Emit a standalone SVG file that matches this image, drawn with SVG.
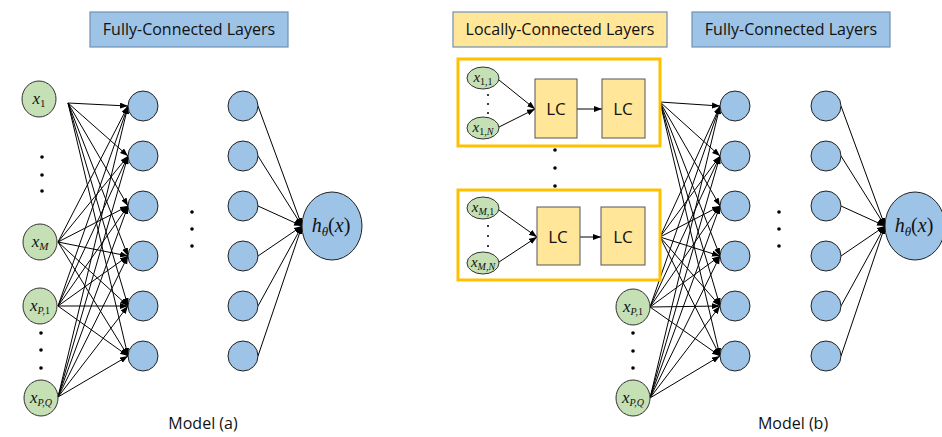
<svg xmlns="http://www.w3.org/2000/svg" width="942" height="437" viewBox="0 0 942 437">
<defs>
<marker id="ah" markerUnits="userSpaceOnUse" markerWidth="9" markerHeight="7" refX="8" refY="3" orient="auto">
<path d="M0,0 L8,3 L0,6 z" fill="#000"/>
</marker>
<style>
.title{font-family:"Open Sans","Liberation Sans",sans-serif;font-size:16px;fill:#111;text-anchor:middle}
.cap{font-family:"Open Sans","Liberation Sans",sans-serif;font-size:16px;fill:#111;text-anchor:middle}
.fcbox{fill:#9DC3E6;stroke:#6F8FB6;stroke-width:1.2}
.lcbox{fill:#FFE699;stroke:#6F8FB6;stroke-width:1.2}
.grp{fill:none;stroke:#FFC000;stroke-width:3}
.in{fill:#C5E0B4;stroke:#333;stroke-width:1}
.hid{fill:#9DC3E6;stroke:#222;stroke-width:1}
.lc{fill:#FFE699;stroke:#555;stroke-width:1}
.lct{font-family:"Open Sans","Liberation Sans",sans-serif;font-size:17px;fill:#111;text-anchor:middle}
.m{font-family:"Liberation Serif","DejaVu Serif",serif;font-style:italic;fill:#111;text-anchor:middle}
.e line{stroke:#000;stroke-width:1;marker-end:url(#ah)}
.dot{fill:#000}
</style>
</defs>
<rect width="942" height="437" fill="#fff"/>

<!-- titles -->
<g id="title-a"><rect class="fcbox" x="90" y="12" width="198" height="35"/><text class="title" x="189" y="35">Fully-Connected Layers</text></g>
<g id="title-lc"><rect class="lcbox" x="453" y="12" width="214" height="35"/><text class="title" x="560" y="35">Locally-Connected Layers</text></g>
<g id="title-b"><rect class="fcbox" x="692" y="12" width="198" height="35"/><text class="title" x="791" y="35">Fully-Connected Layers</text></g>

<!-- connectors -->
<g id="connectors">
<g class="e">
<line x1="68" y1="103" x2="128" y2="106"/><line x1="68" y1="103" x2="128" y2="156"/><line x1="68" y1="103" x2="128" y2="206"/><line x1="68" y1="103" x2="128" y2="256"/><line x1="68" y1="103" x2="128" y2="306"/><line x1="68" y1="103" x2="128" y2="356"/>
<line x1="58" y1="242" x2="128" y2="106"/><line x1="58" y1="242" x2="128" y2="156"/><line x1="58" y1="242" x2="128" y2="206"/><line x1="58" y1="242" x2="128" y2="256"/><line x1="58" y1="242" x2="128" y2="306"/><line x1="58" y1="242" x2="128" y2="356"/>
<line x1="58" y1="306" x2="128" y2="106"/><line x1="58" y1="306" x2="128" y2="156"/><line x1="58" y1="306" x2="128" y2="206"/><line x1="58" y1="306" x2="128" y2="256"/><line x1="58" y1="306" x2="128" y2="306"/><line x1="58" y1="306" x2="128" y2="356"/>
<line x1="58" y1="397" x2="128" y2="106"/><line x1="58" y1="397" x2="128" y2="156"/><line x1="58" y1="397" x2="128" y2="206"/><line x1="58" y1="397" x2="128" y2="256"/><line x1="58" y1="397" x2="128" y2="306"/><line x1="58" y1="397" x2="128" y2="356"/>
<line x1="258" y1="106" x2="302" y2="226"/><line x1="258" y1="156" x2="302" y2="226"/><line x1="258" y1="206" x2="302" y2="226"/><line x1="258" y1="256" x2="302" y2="226"/><line x1="258" y1="306" x2="302" y2="226"/><line x1="258" y1="356" x2="302" y2="226"/>
<line x1="499" y1="80" x2="535" y2="109"/><line x1="499" y1="127" x2="535" y2="109"/><line x1="577" y1="109" x2="602" y2="109"/>
<line x1="499" y1="210" x2="537" y2="237"/><line x1="499" y1="262" x2="537" y2="237"/><line x1="580" y1="237" x2="601" y2="237"/>
<line x1="660" y1="102" x2="720" y2="106"/><line x1="660" y1="102" x2="720" y2="156"/><line x1="660" y1="102" x2="720" y2="206"/><line x1="660" y1="102" x2="720" y2="256"/><line x1="660" y1="102" x2="720" y2="306"/><line x1="660" y1="102" x2="720" y2="356"/>
<line x1="660" y1="237" x2="720" y2="106"/><line x1="660" y1="237" x2="720" y2="156"/><line x1="660" y1="237" x2="720" y2="206"/><line x1="660" y1="237" x2="720" y2="256"/><line x1="660" y1="237" x2="720" y2="306"/><line x1="660" y1="237" x2="720" y2="356"/>
<line x1="650" y1="307" x2="720" y2="106"/><line x1="650" y1="307" x2="720" y2="156"/><line x1="650" y1="307" x2="720" y2="206"/><line x1="650" y1="307" x2="720" y2="256"/><line x1="650" y1="307" x2="720" y2="306"/><line x1="650" y1="307" x2="720" y2="356"/>
<line x1="650" y1="398" x2="720" y2="106"/><line x1="650" y1="398" x2="720" y2="156"/><line x1="650" y1="398" x2="720" y2="206"/><line x1="650" y1="398" x2="720" y2="256"/><line x1="650" y1="398" x2="720" y2="306"/><line x1="650" y1="398" x2="720" y2="356"/>
<line x1="841" y1="106" x2="885" y2="226"/><line x1="841" y1="156" x2="885" y2="226"/><line x1="841" y1="206" x2="885" y2="226"/><line x1="841" y1="256" x2="885" y2="226"/><line x1="841" y1="306" x2="885" y2="226"/><line x1="841" y1="356" x2="885" y2="226"/>
</g>
</g>

<!-- Model (a) nodes -->
<g id="a-x1"><ellipse class="in" cx="39" cy="99" rx="17" ry="18"/><text class="m" x="39" y="104" font-size="17">x<tspan font-size="11" font-style="normal" dy="3">1</tspan></text></g>
<g id="a-xM"><ellipse class="in" cx="40" cy="242" rx="17" ry="18"/><text class="m" x="40" y="247" font-size="17">x<tspan font-size="11" dy="3">M</tspan></text></g>
<g id="a-xP1"><ellipse class="in" cx="40" cy="306" rx="17" ry="18"/><text class="m" x="40" y="311" font-size="17">x<tspan font-size="10" dy="3">P,</tspan><tspan font-size="10" font-style="normal">1</tspan></text></g>
<g id="a-xPQ"><ellipse class="in" cx="41" cy="398" rx="17" ry="18"/><text class="m" x="41" y="403" font-size="17">x<tspan font-size="10" dy="3">P,Q</tspan></text></g>
<g id="a-dots">
<circle class="dot" cx="42" cy="157" r="1.8"/><circle class="dot" cx="42" cy="175" r="1.8"/><circle class="dot" cx="42" cy="191" r="1.8"/>
<circle class="dot" cx="41" cy="333" r="1.8"/><circle class="dot" cx="41" cy="350" r="1.8"/><circle class="dot" cx="41" cy="368" r="1.8"/>
<circle class="dot" cx="192" cy="212" r="1.8"/><circle class="dot" cx="192" cy="229" r="1.8"/><circle class="dot" cx="192" cy="246" r="1.8"/>
</g>
<g id="a-h1">
<circle class="hid" cx="143" cy="106" r="15"/><circle class="hid" cx="143" cy="156" r="15"/><circle class="hid" cx="143" cy="206" r="15"/><circle class="hid" cx="143" cy="256" r="15"/><circle class="hid" cx="143" cy="306" r="15"/><circle class="hid" cx="143" cy="356" r="15"/>
</g>
<g id="a-h2">
<circle class="hid" cx="243" cy="106" r="15"/><circle class="hid" cx="243" cy="156" r="15"/><circle class="hid" cx="243" cy="206" r="15"/><circle class="hid" cx="243" cy="256" r="15"/><circle class="hid" cx="243" cy="306" r="15"/><circle class="hid" cx="243" cy="356" r="15"/>
</g>
<g id="a-out"><ellipse class="hid" cx="332" cy="226" rx="30" ry="34"/><text class="m" x="331" y="232" font-size="20">h<tspan font-size="13" dy="4">θ</tspan><tspan font-style="normal" dy="-4">(</tspan>x<tspan font-style="normal">)</tspan></text></g>
<g id="cap-a"><text class="cap" x="203" y="429">Model (a)</text></g>

<!-- Model (b) nodes -->
<g id="b-group1">
<rect class="grp" x="458" y="59" width="202" height="87"/>
<ellipse class="in" cx="483" cy="78" rx="16" ry="11"/><text class="m" x="483" y="82" font-size="15">x<tspan font-size="10" font-style="normal" dy="3">1,1</tspan></text>
<ellipse class="in" cx="483" cy="128" rx="16" ry="11"/><text class="m" x="483" y="132" font-size="15">x<tspan font-size="10" dy="3"><tspan font-style="normal">1,</tspan>N</tspan></text>
<circle class="dot" cx="488" cy="95" r="1"/><circle class="dot" cx="488" cy="104" r="1"/><circle class="dot" cx="488" cy="113" r="1"/>
<rect class="lc" x="535" y="79" width="42" height="59"/><text class="lct" x="556" y="115">LC</text>
<rect class="lc" x="602" y="79" width="43" height="59"/><text class="lct" x="623" y="115">LC</text>
</g>
<g id="b-group2">
<rect class="grp" x="458" y="190" width="202" height="90"/>
<ellipse class="in" cx="483" cy="208" rx="16" ry="11"/><text class="m" x="483" y="212" font-size="15">x<tspan font-size="10" dy="3">M<tspan font-style="normal">,1</tspan></tspan></text>
<ellipse class="in" cx="483" cy="263" rx="16" ry="11"/><text class="m" x="483" y="267" font-size="15">x<tspan font-size="10" dy="3">M,N</tspan></text>
<circle class="dot" cx="488" cy="226" r="1"/><circle class="dot" cx="488" cy="236" r="1"/><circle class="dot" cx="488" cy="246" r="1"/>
<rect class="lc" x="537" y="207" width="43" height="58"/><text class="lct" x="558" y="243">LC</text>
<rect class="lc" x="601" y="207" width="44" height="58"/><text class="lct" x="623" y="243">LC</text>
</g>
<g id="b-dots">
<circle class="dot" cx="555" cy="150" r="1.8"/><circle class="dot" cx="555" cy="168" r="1.8"/><circle class="dot" cx="555" cy="186" r="1.8"/>
<circle class="dot" cx="633" cy="333" r="1.8"/><circle class="dot" cx="633" cy="351" r="1.8"/><circle class="dot" cx="633" cy="368" r="1.8"/>
<circle class="dot" cx="779" cy="212" r="1.8"/><circle class="dot" cx="779" cy="229" r="1.8"/><circle class="dot" cx="779" cy="246" r="1.8"/>
</g>
<g id="b-xP1"><ellipse class="in" cx="633" cy="307" rx="17" ry="18"/><text class="m" x="633" y="312" font-size="17">x<tspan font-size="10" dy="3">P,</tspan><tspan font-size="10" font-style="normal">1</tspan></text></g>
<g id="b-xPQ"><ellipse class="in" cx="633" cy="398" rx="17" ry="18"/><text class="m" x="633" y="403" font-size="17">x<tspan font-size="10" dy="3">P,Q</tspan></text></g>
<g id="b-h1">
<circle class="hid" cx="735" cy="106" r="15"/><circle class="hid" cx="735" cy="156" r="15"/><circle class="hid" cx="735" cy="206" r="15"/><circle class="hid" cx="735" cy="256" r="15"/><circle class="hid" cx="735" cy="306" r="15"/><circle class="hid" cx="735" cy="356" r="15"/>
</g>
<g id="b-h2">
<circle class="hid" cx="826" cy="106" r="15"/><circle class="hid" cx="826" cy="156" r="15"/><circle class="hid" cx="826" cy="206" r="15"/><circle class="hid" cx="826" cy="256" r="15"/><circle class="hid" cx="826" cy="306" r="15"/><circle class="hid" cx="826" cy="356" r="15"/>
</g>
<g id="b-out"><ellipse class="hid" cx="915" cy="226" rx="30" ry="34"/><text class="m" x="914" y="232" font-size="20">h<tspan font-size="13" dy="4">θ</tspan><tspan font-style="normal" dy="-4">(</tspan>x<tspan font-style="normal">)</tspan></text></g>
<g id="cap-b"><text class="cap" x="793" y="429">Model (b)</text></g>
</svg>
